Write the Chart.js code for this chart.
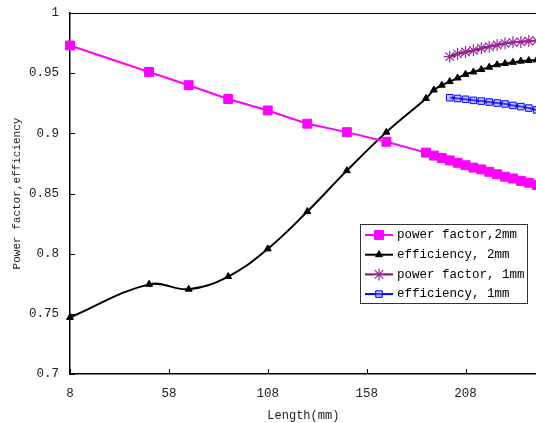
<!DOCTYPE html>
<html>
<head>
<meta charset="utf-8">
<script src="https://cdn.jsdelivr.net/npm/chart.js@4/dist/chart.umd.min.js"></script>
<style>
  html, body { margin: 0; padding: 0; background: #fff; overflow: hidden; }
  #wrap { width: 544px; height: 423px; }
</style>
</head>
<body>
<div id="wrap"><canvas id="c"></canvas></div>
<script>
// lengths (mm)
const xLong = [8, 48, 68, 88, 108, 128, 148, 168, 188, 192, 196, 200, 204, 208, 212, 216, 220, 224, 228, 232, 236, 240, 244];
const xShort = [200, 204, 208, 212, 216, 220, 224, 228, 232, 236, 240, 244];

const pf2mm = [0.973, 0.951, 0.940, 0.9285, 0.919, 0.908, 0.901, 0.893,
    0.884, 0.8815, 0.8795, 0.8775, 0.8755, 0.8735, 0.8715, 0.870, 0.868, 0.866, 0.864, 0.8625, 0.8605, 0.859, 0.857];
const eff2mm = [0.747, 0.7745, 0.7705, 0.781, 0.804, 0.835, 0.869, 0.901,
    0.929, 0.936, 0.940, 0.943, 0.946, 0.949, 0.951, 0.953, 0.955, 0.957, 0.958, 0.959, 0.960, 0.9605, 0.961];
const pf1mm = [0.9637, 0.966, 0.9676, 0.969, 0.9707, 0.972, 0.9734, 0.9748, 0.9756, 0.976, 0.9767, 0.977];
const eff1mm = [0.9296, 0.929, 0.9283, 0.9274, 0.9268, 0.926, 0.9252, 0.9244, 0.9232, 0.9222, 0.921, 0.9195];

const xTicks = [8, 58, 108, 158, 208];
const yTicks = [0.7, 0.75, 0.8, 0.85, 0.9, 0.95, 1];

const FONT = 'Liberation Mono';

function pairs(xs, ys) {
    return xs.map((x, i) => ({ x: x, y: ys[i] }));
}

// frame line on top + inward tick marks
const framePlugin = {
    id: 'frame',
    afterDraw(chart) {
        const ctx = chart.ctx;
        const a = chart.chartArea;
        const xs = chart.scales.x, ys = chart.scales.y;
        ctx.save();
        ctx.strokeStyle = '#000';
        ctx.lineWidth = 1;
        ctx.beginPath();
        ctx.moveTo(a.left, a.top + 0.5);
        ctx.lineTo(a.right, a.top + 0.5);
        xTicks.forEach(v => {
            const px = Math.round(xs.getPixelForValue(v)) + 0.5;
            ctx.moveTo(px, a.bottom);
            ctx.lineTo(px, a.bottom - 5);
        });
        yTicks.forEach(v => {
            const py = Math.round(ys.getPixelForValue(v)) + 0.5;
            ctx.moveTo(a.left, py);
            ctx.lineTo(a.left + 5, py);
        });
        ctx.stroke();
        ctx.restore();
    }
};

// boxed legend inside the plot
const legendPlugin = {
    id: 'boxLegend',
    afterDraw(chart) {
        const ctx = chart.ctx;
        const bx = 360, by = 224, bw = 167, bh = 79;
        ctx.save();
        ctx.fillStyle = '#fff';
        ctx.fillRect(bx, by, bw, bh);
        ctx.strokeStyle = '#333';
        ctx.lineWidth = 1;
        ctx.strokeRect(bx + 0.5, by + 0.5, bw, bh);
        chart.data.datasets.forEach((ds, i) => {
            const y = by + 11 + i * 19.7;
            ctx.strokeStyle = ds.borderColor;
            ctx.lineWidth = 2;
            ctx.beginPath();
            ctx.moveTo(365, y);
            ctx.lineTo(393, y);
            ctx.stroke();
            ctx.fillStyle = ds.pointBackgroundColor;
            ctx.strokeStyle = ds.pointBorderColor;
            ctx.lineWidth = ds.pointBorderWidth;
            Chart.helpers.drawPoint(ctx, { pointStyle: ds.pointStyle, radius: ds.pointRadius, rotation: 0, borderWidth: ds.pointBorderWidth }, 379, y);
            ctx.fillStyle = '#000';
            ctx.font = '12.5px "' + FONT + '"';
            ctx.textBaseline = 'middle';
            ctx.fillText(ds.label, 397, y);
        });
        ctx.restore();
    }
};

const data = {
    datasets: [{
        label: 'power factor,2mm',
        data: pairs(xLong, pf2mm),
        borderColor: '#ff00ff',
        backgroundColor: '#ff00ff',
        pointBackgroundColor: '#ff00ff',
        pointBorderColor: '#ff00ff',
        pointBorderWidth: 1,
        pointStyle: 'rect',
        pointRadius: 6.3,
        borderWidth: 2,
        tension: 0,
        clip: false
    }, {
        label: 'efficiency, 2mm',
        data: pairs(xLong, eff2mm),
        borderColor: '#000000',
        backgroundColor: '#000000',
        pointBackgroundColor: '#000000',
        pointBorderColor: '#000000',
        pointBorderWidth: 1,
        pointStyle: 'triangle',
        pointRadius: 4,
        borderWidth: 2,
        tension: 0.4,
        clip: false
    }, {
        label: 'power factor, 1mm',
        data: pairs(xShort, pf1mm),
        borderColor: '#800080',
        backgroundColor: '#800080',
        pointBackgroundColor: '#800080',
        pointBorderColor: '#9a2a9a',
        pointBorderWidth: 1.2,
        pointStyle: 'star',
        pointRadius: 6,
        borderWidth: 2,
        tension: 0.4,
        clip: false
    }, {
        label: 'efficiency, 1mm',
        data: pairs(xShort, eff1mm),
        borderColor: '#0000ff',
        backgroundColor: '#0000ff',
        pointBackgroundColor: 'rgba(120,130,255,0.45)',
        pointBorderColor: '#0000ff',
        pointBorderWidth: 1,
        pointStyle: 'rect',
        pointRadius: 4.6,
        borderWidth: 2,
        tension: 0.4,
        clip: false
    }]
};

const config = {
    type: 'line',
    data: data,
    options: {
        responsive: true,
        maintainAspectRatio: false,
        animation: false,
        layout: { padding: { top: 13, left: 0, right: 0, bottom: 0 } },
        plugins: {
            legend: { display: false },
            tooltip: { enabled: false }
        },
        scales: {
            x: {
                type: 'linear',
                min: 8,
                max: 244,
                afterBuildTicks: s => { s.ticks = xTicks.map(v => ({ value: v })); },
                afterFit: s => { s.height = 49; s.paddingRight = 0; s.paddingLeft = 0; },
                grid: { display: false, drawTicks: false },
                border: { color: '#000', width: 1.5 },
                ticks: {
                    padding: 12,
                    color: '#222',
                    font: { family: FONT, size: 12.5 },
                    callback: v => String(v)
                },
                title: {
                    display: true,
                    text: 'Length(mm)',
                    color: '#222',
                    font: { family: FONT, size: 12 },
                    padding: { top: 3, bottom: 0 }
                }
            },
            y: {
                min: 0.7,
                max: 1,
                afterBuildTicks: s => { s.ticks = yTicks.map(v => ({ value: v })); },
                afterFit: s => { s.width = 70; s.paddingTop = 0; s.paddingBottom = 0; },
                grid: { display: false, drawTicks: false },
                border: { color: '#000', width: 1.5 },
                ticks: {
                    padding: 11,
                    color: '#222',
                    font: { family: FONT, size: 12.5 },
                    callback: v => String(+v.toFixed(2))
                },
                title: {
                    display: true,
                    text: 'Power factor,efficiency',
                    color: '#222',
                    font: { family: FONT, size: 11 },
                    padding: { top: 10, bottom: 0 }
                }
            }
        }
    },
    plugins: [framePlugin, legendPlugin]
};

new Chart(document.getElementById('c'), config);
</script>
</body>
</html>
